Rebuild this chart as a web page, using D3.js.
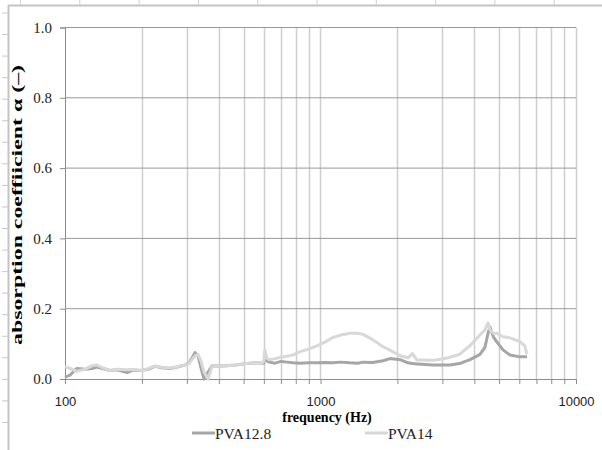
<!DOCTYPE html>
<html>
<head>
<meta charset="utf-8">
<script src="https://cdn.jsdelivr.net/npm/d3@7/dist/d3.min.js"></script>
<style>
body { margin: 0; background: #fff; }
.serif { font-family: "Liberation Serif", "Times New Roman", serif; }
.sans { font-family: "Liberation Sans", Arial, sans-serif; }
</style>
</head>
<body>
<svg width="602" height="450"></svg>
<script>
// frequency (Hz) sample points, shared by both series
var freq = [100, 105, 111, 120, 128, 133, 140, 150, 160, 175, 185, 200, 212, 225, 240, 257, 275, 295, 305, 314,
    323, 332, 341, 350, 363, 376, 404, 430, 463, 500, 530, 560, 590, 600, 606, 615, 630, 663, 700, 740,
    780, 832, 900, 968, 1040, 1118, 1200, 1303, 1400, 1466, 1600, 1757, 1870, 2050, 2200, 2290, 2387, 2500, 2757, 3000,
    3212, 3500, 3847, 4210, 4400, 4525, 4606, 4750, 4906, 5180, 5518, 6035, 6300, 6430];

var pva128 = [0.005, 0.012, 0.030, 0.028, 0.030, 0.034, 0.030, 0.024, 0.026, 0.018, 0.025, 0.024, 0.028, 0.036, 0.032, 0.030, 0.034, 0.040, 0.045, 0.060,
    0.075, 0.065, 0.030, 0.000, 0.020, 0.037, 0.037, 0.038, 0.040, 0.043, 0.045, 0.046, 0.045, 0.045, 0.060, 0.052, 0.048, 0.045, 0.050, 0.048,
    0.046, 0.045, 0.046, 0.046, 0.047, 0.046, 0.048, 0.046, 0.045, 0.048, 0.047, 0.052, 0.058, 0.055, 0.046, 0.044, 0.043, 0.042, 0.040, 0.040,
    0.040, 0.044, 0.055, 0.070, 0.090, 0.130, 0.148, 0.120, 0.105, 0.083, 0.068, 0.063, 0.063, 0.063];

var pva14 = [0.035, 0.030, 0.022, 0.028, 0.038, 0.040, 0.032, 0.024, 0.028, 0.026, 0.027, 0.024, 0.030, 0.037, 0.033, 0.031, 0.035, 0.040, 0.044, 0.055,
    0.066, 0.070, 0.050, 0.020, 0.000, 0.035, 0.037, 0.038, 0.040, 0.043, 0.045, 0.046, 0.045, 0.050, 0.083, 0.060, 0.055, 0.058, 0.062, 0.065,
    0.068, 0.078, 0.085, 0.094, 0.105, 0.118, 0.125, 0.130, 0.130, 0.127, 0.112, 0.092, 0.082, 0.066, 0.060, 0.072, 0.054, 0.054, 0.053, 0.057,
    0.062, 0.070, 0.095, 0.125, 0.140, 0.160, 0.140, 0.130, 0.130, 0.120, 0.117, 0.106, 0.095, 0.070];

var seriesNames = ["PVA12.8", "PVA14"];
var seriesColors = ["#a6a6a6", "#d8d8d8"];
var yTicks = [0, 0.2, 0.4, 0.6, 0.8, 1.0];
var xLabels = [100, 1000, 10000];

var svg = d3.select("svg");

var xScale = d3.scaleLog().domain([100, 10000]).range([65, 576]);
var yScale = d3.scaleLinear().domain([0, 1]).range([379, 27.5]);

// sheet frame around the chart
svg.append("line")
    .attr("x1", 8).attr("x2", 602).attr("y1", 5.5).attr("y2", 5.5)
    .style("stroke", "#c4c4c4").style("stroke-width", 2);
svg.append("line")
    .attr("x1", 8.5).attr("x2", 8.5).attr("y1", 5).attr("y2", 450)
    .style("stroke", "#c4c4c4").style("stroke-width", 2);
svg.selectAll(".topTick").data(d3.range(10)).enter().append("line")
    .attr("x1", d => 20.5 + d * 59.3).attr("x2", d => 20.5 + d * 59.3)
    .attr("y1", 0).attr("y2", 5)
    .style("stroke", "#d0d0d0");
svg.selectAll(".leftTick").data(d3.range(20)).enter().append("line")
    .attr("x1", 2).attr("x2", 8)
    .attr("y1", d => 13 + d * 21.55).attr("y2", d => 13 + d * 21.55)
    .style("stroke", "#c8c8c8");

// vertical grid at every log tick
var logTicks = xScale.ticks();
svg.selectAll(".vgrid").data(logTicks.filter(d => d > 100)).enter().append("line")
    .attr("x1", d => Math.round(xScale(d)) + 0.5).attr("x2", d => Math.round(xScale(d)) + 0.5)
    .attr("y1", yScale(1)).attr("y2", yScale(0))
    .style("stroke", "#cfcfcf").style("stroke-width", 1.5);

// horizontal grid
svg.selectAll(".hgrid").data(yTicks.filter(d => d > 0)).enter().append("line")
    .attr("x1", 65).attr("x2", 576)
    .attr("y1", d => yScale(d)).attr("y2", d => yScale(d))
    .style("stroke", "#999").style("stroke-width", 1);

// y axis
var yAxis = svg.append("g")
    .attr("transform", "translate(65,0)")
    .call(d3.axisLeft(yScale).tickValues(yTicks).tickSize(5).tickPadding(8).tickFormat(d3.format(".1f")));
yAxis.attr("font-family", null).attr("font-size", null);
yAxis.select(".domain").style("stroke", "#8c8c8c");
yAxis.selectAll(".tick line").style("stroke", "#8c8c8c");
yAxis.selectAll("text").attr("class", "serif")
    .style("font-size", "15px").style("fill", "#222");

// x axis
var xAxis = svg.append("g")
    .attr("transform", "translate(0,379)")
    .call(d3.axisBottom(xScale).tickValues(logTicks).tickSize(5).tickPadding(13)
        .tickFormat(d => xLabels.indexOf(d) >= 0 ? d : ""));
xAxis.attr("font-family", null).attr("font-size", null);
xAxis.select(".domain").style("stroke", "#8c8c8c");
xAxis.selectAll(".tick line").style("stroke", "#8c8c8c");
xAxis.selectAll("text").attr("class", "sans")
    .style("font-size", "13px").style("fill", "#222");

// series lines, PVA14 drawn on top
var line = d3.line()
    .x((d, i) => xScale(freq[i]))
    .y(d => yScale(d));

[pva128, pva14].forEach(function (values, k) {
    svg.append("path")
        .attr("d", line(values))
        .attr("fill", "none")
        .attr("stroke", seriesColors[k])
        .attr("stroke-width", 3)
        .attr("stroke-linejoin", "round");
});

// axis titles
svg.append("text")
    .attr("class", "serif")
    .attr("x", 327).attr("y", 422)
    .attr("text-anchor", "middle")
    .style("font-size", "14px").style("font-weight", "bold")
    .text("frequency (Hz)");

svg.append("text")
    .attr("class", "serif")
    .attr("transform", "translate(22,205) rotate(-90)")
    .attr("text-anchor", "middle")
    .attr("textLength", 280)
    .attr("lengthAdjust", "spacingAndGlyphs")
    .style("font-size", "15px").style("font-weight", "bold")
    .text("absorption coeffiicient α (–)");

// legend
var legendX = [192, 365];
seriesNames.forEach(function (name, i) {
    svg.append("line")
        .attr("x1", legendX[i]).attr("x2", legendX[i] + 23)
        .attr("y1", 433).attr("y2", 433)
        .style("stroke", seriesColors[i]).style("stroke-width", 3);
    svg.append("text")
        .attr("class", "serif")
        .attr("x", legendX[i] + 23).attr("y", 438.5)
        .style("font-size", "15.5px").style("fill", "#222")
        .text(name);
});
</script>
</body>
</html>
